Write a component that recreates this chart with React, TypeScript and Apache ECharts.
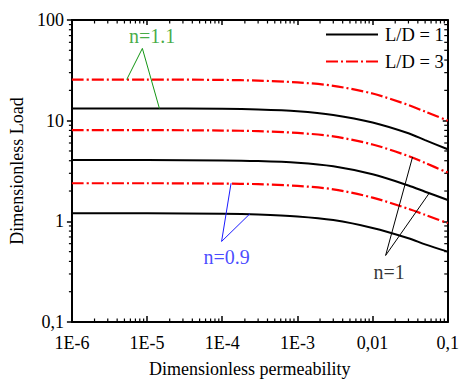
import React, { useEffect, useRef } from "react";
import * as echarts from "echarts";

// ---- data ----
const xValues = [1e-6, 1e-5, 1e-4, 3e-4, 1e-3, 3e-3, 1e-2, 3e-2, 5e-2, 1e-1];
const ld1_n11 = [13.2, 13.2, 13.1, 12.9, 12.4, 11.4, 9.6, 7.5, 6.4, 5.2];
const ld3_n11 = [25.6, 25.6, 25.4, 25.0, 24.0, 22.2, 18.6, 14.3, 12.3, 10.0];
const ld1_n10 = [4.06, 4.06, 4.03, 3.97, 3.82, 3.52, 2.93, 2.27, 1.97, 1.63];
const ld3_n10 = [8.05, 8.05, 7.98, 7.86, 7.55, 6.98, 5.8, 4.45, 3.8, 3.05];
const ld1_n09 = [1.2, 1.2, 1.19, 1.17, 1.12, 1.03, 0.86, 0.68, 0.59, 0.5];
const ld3_n09 = [2.39, 2.39, 2.37, 2.34, 2.25, 2.08, 1.72, 1.33, 1.16, 0.96];

const xTickLabels = ["1E-6", "1E-5", "1E-4", "1E-3", "0,01", "0,1"];
const yTickLabels = ["0,1", "1", "10", "100"];
const legendNames = ["L/D = 1", "L/D = 3"];

// annotation pointers (data coords): end1, apex, end2
const ptrN11 = [[5.36e-6, 25.6], [8.66e-6, 52.2], [1.46e-5, 13.2]];
const ptrN09 = [[1.31e-4, 2.39], [9.8e-5, 0.631], [2.34e-4, 1.19]];
const ptrN10 = [[0.034, 4.35], [0.0149, 0.458], [0.0571, 1.92]];
const annoLabels = [
  { name: "n=1.1", value: [1.17e-5, 69.0], color: "#149614" },
  { name: "n=0.9", value: [1.14e-4, 0.443], color: "#1a1aff" },
  { name: "n=1", value: [0.0166, 0.316], color: "#000000" },
];

const FONT = "'Liberation Serif', 'Times New Roman', serif";

function pairs(ys: number[]) {
  return xValues.map((x, i) => [x, ys[i]]);
}

function minorTicks(lo: number, hi: number) {
  const out: number[] = [];
  for (let e = lo; e < hi; e++) {
    for (let m = 2; m <= 9; m++) out.push(m * Math.pow(10, e));
  }
  return out;
}

export default function App() {
  const ref = useRef<HTMLDivElement>(null);
  useEffect(() => {
    if (!ref.current) return;
    const chart = echarts.init(ref.current, undefined, { renderer: "svg" });
    const blackStyle = { color: "#000", width: 2, type: "solid" as const };
    const redStyle = { color: "#ff0000", width: 2.2, type: [12, 3, 2, 3] as any };
    const curve = (name: string, ys: number[], style: any) => ({
      type: "line",
      name,
      data: pairs(ys),
      smooth: 0.3,
      showSymbol: false,
      symbol: "none",
      lineStyle: style,
      itemStyle: { color: style.color },
      z: 3,
    });
    const pointer = (pts: number[][], color: string) => ({
      type: "line",
      name: "ptr" + color,
      data: pts,
      symbol: "none",
      lineStyle: { color, width: 1 },
      z: 4,
      silent: true,
    });
    const xMinor = minorTicks(-6, -1).map((v) => [v, 1]);
    const yMinor = minorTicks(-1, 2).map((v) => [1e-3, v]);
    const axisLine = { show: true, onZero: false, lineStyle: { color: "#000", width: 2 } };
    chart.setOption({
      animation: false,
      backgroundColor: "#fff",
      textStyle: { fontFamily: FONT },
      grid: { left: 68, right: 10, top: 20, bottom: 57, containLabel: false },
      legend: {
        data: legendNames,
        orient: "vertical",
        left: 320,
        top: 20,
        itemWidth: 52,
        itemHeight: 14,
        itemGap: 8,
        itemStyle: { opacity: 0 },
        textStyle: { fontFamily: FONT, fontSize: 18.5, color: "#000", padding: [0, 0, 0, 2] },
        selectedMode: false,
      },
      xAxis: [
        {
          type: "log",
          logBase: 10,
          min: 1e-6,
          max: 0.1,
          position: "bottom",
          axisLine,
          axisTick: { show: true, inside: true, length: 6, lineStyle: { color: "#000", width: 1.5 } },
          splitLine: { show: false },
          axisLabel: {
            margin: 12,
            fontFamily: FONT,
            fontSize: 18,
            color: "#000",
            formatter: (v: number) => xTickLabels[Math.round(Math.log10(v)) + 6] ?? "",
          },
          name: "Dimensionless permeability",
          nameLocation: "middle",
          nameGap: 38,
          nameTextStyle: { fontFamily: FONT, fontSize: 18, color: "#000", padding: [0, 20, 0, 0] },
        },
        {
          type: "log",
          logBase: 10,
          min: 1e-6,
          max: 0.1,
          position: "top",
          axisLine,
          axisTick: { show: true, inside: true, length: 5, lineStyle: { color: "#000", width: 1.5 } },
          axisLabel: { show: false },
          splitLine: { show: false },
        },
      ],
      yAxis: [
        {
          type: "log",
          logBase: 10,
          min: 0.1,
          max: 100,
          position: "left",
          axisLine,
          axisTick: { show: true, inside: false, length: 5, lineStyle: { color: "#000", width: 1.5 } },
          splitLine: { show: false },
          axisLabel: {
            margin: 8,
            fontFamily: FONT,
            fontSize: 18,
            color: "#000",
            formatter: (v: number) => yTickLabels[Math.round(Math.log10(v)) + 1] ?? "",
          },
          name: "Dimensionless Load",
          nameLocation: "middle",
          nameGap: 43,
          nameTextStyle: { fontFamily: FONT, fontSize: 18, color: "#000" },
        },
        {
          type: "log",
          logBase: 10,
          min: 0.1,
          max: 100,
          position: "right",
          axisLine,
          axisTick: { show: true, inside: true, length: 5, lineStyle: { color: "#000", width: 1.5 } },
          axisLabel: { show: false },
          splitLine: { show: false },
        },
      ],
      series: [
        curve(legendNames[0], ld1_n11, blackStyle),
        curve(legendNames[1], ld3_n11, redStyle),
        curve(legendNames[0], ld1_n10, blackStyle),
        curve(legendNames[1], ld3_n10, redStyle),
        curve(legendNames[0], ld1_n09, blackStyle),
        curve(legendNames[1], ld3_n09, redStyle),
        pointer(ptrN11, "#149614"),
        pointer(ptrN09, "#1a1aff"),
        pointer(ptrN10, "#000000"),
        {
          type: "scatter",
          name: "labels",
          symbolSize: 0,
          silent: true,
          data: annoLabels.map((a) => ({
            name: a.name,
            value: a.value,
            label: {
              show: true,
              position: "inside",
              formatter: "{b}",
              fontFamily: FONT,
              fontSize: 20,
              color: a.color,
            },
          })),
          z: 5,
        },
        {
          type: "custom",
          name: "xminor",
          silent: true,
          clip: false,
          data: xMinor,
          renderItem: (params: any, api: any) => {
            const cs = params.coordSys;
            const p = api.coord([api.value(0), api.value(1)]);
            const st = { stroke: "#000", lineWidth: 1.2 };
            return {
              type: "group",
              children: [
                { type: "line", shape: { x1: p[0], y1: cs.y + cs.height, x2: p[0], y2: cs.y + cs.height - 3.5 }, style: st },
                { type: "line", shape: { x1: p[0], y1: cs.y, x2: p[0], y2: cs.y + 3.5 }, style: st },
              ],
            };
          },
        },
        {
          type: "custom",
          name: "yminor",
          silent: true,
          clip: false,
          data: yMinor,
          renderItem: (params: any, api: any) => {
            const cs = params.coordSys;
            const p = api.coord([api.value(0), api.value(1)]);
            const st = { stroke: "#000", lineWidth: 1.2 };
            return {
              type: "group",
              children: [
                { type: "line", shape: { x1: cs.x - 3, y1: p[1], x2: cs.x, y2: p[1] }, style: st },
                { type: "line", shape: { x1: cs.x + cs.width - 3.5, y1: p[1], x2: cs.x + cs.width, y2: p[1] }, style: st },
              ],
            };
          },
        },
      ],
    });
    return () => chart.dispose();
  }, []);
  return (
    <div
      ref={ref}
      style={{ position: "absolute", left: 0, top: 0, width: 462, height: 383 }}
    />
  );
}
